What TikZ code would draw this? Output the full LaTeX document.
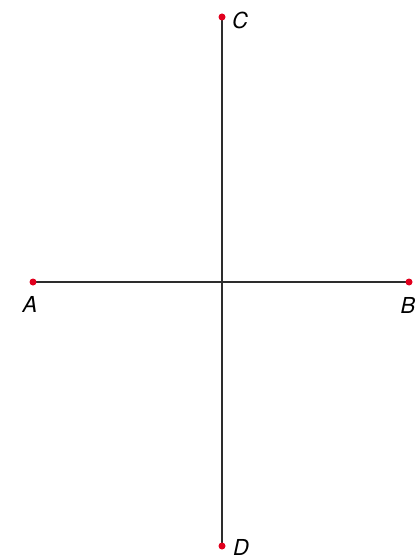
\documentclass[tikz,border=0pt]{standalone}
\usepackage{fontspec}
\setmainfont{TeX Gyre Heros}
\usepackage{tikz}
\definecolor{ptred}{RGB}{225,0,30}
\definecolor{linegray}{RGB}{45,45,45}
\tikzstyle{pt}=[circle,fill=ptred, minimum size = 7pt, inner sep=0pt]
\tikzstyle{lbl}=[inner sep=0pt, font=\fontsize{22}{26}\selectfont\itshape]
\tikzstyle{seg}=[draw=linegray, line width=1.4pt]

\begin{document}
\begin{tikzpicture}[x=1pt, y=-1pt]
    \useasboundingbox (0,0) rectangle (417,559);

    %segments
    \coordinate (A) at (33,282);
    \coordinate (B) at (409,282);
    \coordinate (C) at (222,17);
    \coordinate (D) at (222,546);
    \draw[seg] (A) -- (B);
    \draw[seg] (C) -- (D);

    %points
    \foreach \p in {A,B,C,D} {
    \node (\p dot) at (\p) [pt] {};
    }

    %labels
    \node [lbl] (labA) at (30,304) {A};
    \node [lbl] (labB) at (408,305) {B};
    \node [lbl] (labC) at (240,20) {C};
    \node [lbl] (labD) at (241,547) {D};

\end{tikzpicture}
\end{document}
